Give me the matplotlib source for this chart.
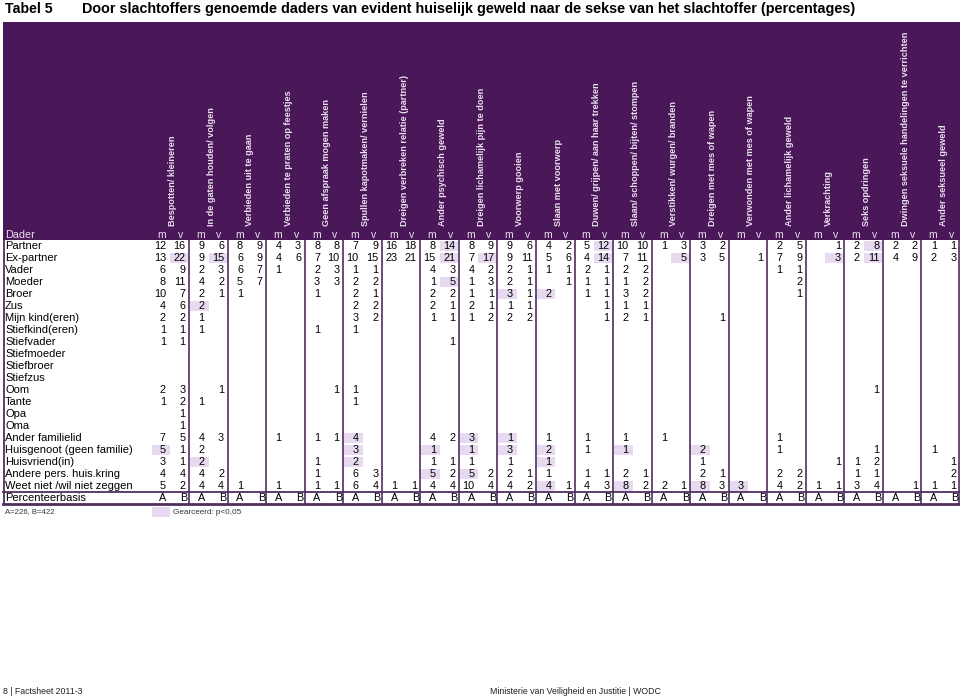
import matplotlib
matplotlib.use('Agg')
import matplotlib.pyplot as plt
from matplotlib.patches import Rectangle

N = None

acts = ["Bespotten/ kleineren", "In de gaten houden/ volgen", "Verbieden uit te gaan",
        "Verbieden te praten op feestjes", "Geen afspraak mogen maken",
        "Spullen kapotmaken/ vernielen", "Dreigen verbreken relatie (partner)",
        "Ander psychisch geweld", "Dreigen lichamelijk pijn te doen", "Voorwerp gooien",
        "Slaan met voorwerp", "Duwen/ grijpen/ aan haar trekken",
        "Slaan/ schoppen/ bijten/ stompen", "Verstikken/ wurgen/ branden",
        "Dreigen met mes of wapen", "Verwonden met mes of wapen", "Ander lichamelijk geweld",
        "Verkrachting", "Seks opdringen", "Dwingen seksuele handelingen te verrichten",
        "Ander seksueel geweld"]
sexes = ["m", "v"]
bases = ["A", "B"]

daders = ["Partner", "Ex-partner", "Vader", "Moeder", "Broer", "Zus", "Mijn kind(eren)",
          "Stiefkind(eren)", "Stiefvader", "Stiefmoeder", "Stiefbroer", "Stiefzus", "Oom",
          "Tante", "Opa", "Oma", "Ander familielid", "Huisgenoot (geen familie)",
          "Huisvriend(in)", "Andere pers. huis.kring", "Weet niet /wil niet zeggen"]

partner = [12,16, 9,6, 8,9, 4,3, 8,8, 7,9, 16,18, 8,14, 8,9, 9,6, 4,2, 5,12, 10,10, 1,3, 3,2, N,N, 2,5, N,1, 2,8, 2,2, 1,1]
ex_partner = [13,22, 9,15, 6,9, 4,6, 7,10, 10,15, 23,21, 15,21, 7,17, 9,11, 5,6, 4,14, 7,11, N,5, 3,5, N,1, 7,9, N,3, 2,11, 4,9, 2,3]
vader = [6,9, 2,3, 6,7, 1,N, 2,3, 1,1, N,N, 4,3, 4,2, 2,1, 1,1, 2,1, 2,2, N,N, N,N, N,N, 1,1, N,N, N,N, N,N, N,N]
moeder = [8,11, 4,2, 5,7, N,N, 3,3, 2,2, N,N, 1,5, 1,3, 2,1, N,1, 1,1, 1,2, N,N, N,N, N,N, N,2, N,N, N,N, N,N, N,N]
broer = [10,7, 2,1, 1,N, N,N, 1,N, 2,1, N,N, 2,2, 1,1, 3,1, 2,N, 1,1, 3,2, N,N, N,N, N,N, N,1, N,N, N,N, N,N, N,N]
zus = [4,6, 2,N, N,N, N,N, N,N, 2,2, N,N, 2,1, 2,1, 1,1, N,N, N,1, 1,1, N,N, N,N, N,N, N,N, N,N, N,N, N,N, N,N]
mijn_kind = [2,2, 1,N, N,N, N,N, N,N, 3,2, N,N, 1,1, 1,2, 2,2, N,N, N,1, 2,1, N,N, N,1, N,N, N,N, N,N, N,N, N,N, N,N]
stiefkind = [1,1, 1,N, N,N, N,N, 1,N, 1,N, N,N, N,N, N,N, N,N, N,N, N,N, N,N, N,N, N,N, N,N, N,N, N,N, N,N, N,N, N,N]
stiefvader = [1,1, N,N, N,N, N,N, N,N, N,N, N,N, N,1, N,N, N,N, N,N, N,N, N,N, N,N, N,N, N,N, N,N, N,N, N,N, N,N, N,N]
stiefmoeder = [N] * 42
stiefbroer = [N] * 42
stiefzus = [N] * 42
oom = [2,3, N,1, N,N, N,N, N,1, 1,N, N,N, N,N, N,N, N,N, N,N, N,N, N,N, N,N, N,N, N,N, N,N, N,N, N,1, N,N, N,N]
tante = [1,2, 1,N, N,N, N,N, N,N, 1,N, N,N, N,N, N,N, N,N, N,N, N,N, N,N, N,N, N,N, N,N, N,N, N,N, N,N, N,N, N,N]
opa = [N,1] + [N] * 40
oma = [N,1] + [N] * 40
ander_familielid = [7,5, 4,3, N,N, 1,N, 1,1, 4,N, N,N, 4,2, 3,N, 1,N, 1,N, 1,N, 1,N, 1,N, N,N, N,N, 1,N, N,N, N,N, N,N, N,N]
huisgenoot = [5,1, 2,N, N,N, N,N, N,N, 3,N, N,N, 1,N, 1,N, 3,N, 2,N, 1,N, 1,N, N,N, 2,N, N,N, 1,N, N,N, N,1, N,N, 1,N]
huisvriend = [3,1, 2,N, N,N, N,N, 1,N, 2,N, N,N, 1,1, 1,N, 1,N, 1,N, N,N, N,N, N,N, 1,N, N,N, N,N, N,1, 1,2, N,N, N,1]
andere_pers = [4,4, 4,2, N,N, N,N, 1,N, 6,3, N,N, 5,2, 5,2, 2,1, 1,N, 1,1, 2,1, N,N, 2,1, N,N, 2,2, N,N, 1,1, N,N, N,2]
weet_niet = [5,2, 4,4, 1,N, 1,N, 1,1, 6,4, 1,1, 4,4, 10,4, 4,2, 4,1, 4,3, 8,2, 2,1, 8,3, 3,N, 4,2, 1,1, 3,4, N,1, 1,1]

rows = [partner, ex_partner, vader, moeder, broer, zus, mijn_kind, stiefkind, stiefvader,
        stiefmoeder, stiefbroer, stiefzus, oom, tante, opa, oma, ander_familielid,
        huisgenoot, huisvriend, andere_pers, weet_niet]

# (row index, column index) of cells that are significant (p < 0.05)
significant = [(0, 15), (0, 23), (0, 37),
               (1, 1), (1, 3), (1, 15), (1, 17), (1, 23), (1, 27), (1, 35), (1, 37),
               (3, 15), (4, 18), (4, 20), (5, 2),
               (16, 10), (16, 16), (16, 18),
               (17, 0), (17, 10), (17, 14), (17, 16), (17, 18), (17, 20), (17, 24), (17, 28),
               (18, 2), (18, 10), (18, 20),
               (19, 14), (19, 16),
               (20, 20), (20, 24), (20, 28), (20, 30)]

title_left = "Tabel 5"
title = "Door slachtoffers genoemde daders van evident huiselijk geweld naar de sekse van het slachtoffer (percentages)"
note = "A=226, B=422"
legend_text = "Gearceerd: p<0,05"
footer_left = "8 | Factsheet 2011-3"
footer_right = "Ministerie van Veiligheid en Justitie | WODC"

# ---------------- layout ----------------
PURPLE = '#4A1758'
LINE = '#4E2E5E'
SHADE = '#E6D9F0'
HEAD_TXT = '#E9E1F0'
FONT = ['Liberation Sans', 'DejaVu Sans']
NARROW = ['Liberation Sans Narrow', 'Liberation Sans', 'DejaVu Sans']

W, H = 960, 700
fig = plt.figure(figsize=(W / 100, H / 100), dpi=100)
ax = fig.add_axes([0, 0, 1, 1])
ax.set_xlim(0, W)
ax.set_ylim(H, 0)
ax.axis('off')

x0, x_end = 150.5, 960.0
gw = (x_end - x0) / len(acts)
row_top = 240.0
rh = 12.0
n_rows = len(rows)

# title
ax.text(5, 9, title_left, fontsize=10.2, fontweight='bold', family=FONT, va='center', ha='left')
ax.text(82, 9, title, fontsize=10.4, fontweight='bold', family=FONT, va='center', ha='left')

# header block
ax.add_patch(Rectangle((3, 22), W - 3, row_top - 22, facecolor=PURPLE, edgecolor='none'))
for g, name in enumerate(acts):
    cx = x0 + gw * (g + 0.5) + 3
    ax.text(cx, 226, name, rotation=90, fontsize=6.6, fontweight='bold', color=HEAD_TXT,
            family=FONT, ha='center', va='bottom')
    for s, sx in enumerate(sexes):
        xr = x0 + gw * g + (11.5 if s == 0 else 30)
        ax.text(xr, 234.5, sx, fontsize=7.5, color=HEAD_TXT, family=FONT, ha='center', va='center')
ax.text(5, 234.5, "Dader", fontsize=7.8, color=HEAD_TXT, family=FONT, ha='left', va='center')

# shading
for (r, c) in significant:
    g, s = divmod(c, 2)
    gx = x0 + gw * g
    if s == 0:
        rx, rw = gx + 1, 18.5
    else:
        rx, rw = gx + 19.5, gw - 20.5
    ax.add_patch(Rectangle((rx, row_top + r * rh + 0.7), rw, rh - 1.4,
                           facecolor=SHADE, edgecolor='none', zorder=1))

# body values
for r, (label, vals) in enumerate(zip(daders, rows)):
    y = row_top + (r + 0.5) * rh
    ax.text(5, y, label, fontsize=8.0, family=FONT, ha='left', va='center', zorder=3)
    for c, v in enumerate(vals):
        if v is None:
            continue
        g, s = divmod(c, 2)
        xr = x0 + gw * g + (15.5 if s == 0 else gw - 3.5)
        ax.text(xr, y, str(v), fontsize=7.8, family=FONT, ha='right', va='center', zorder=3)

# percenteerbasis row
yb = row_top + (n_rows + 0.5) * rh
ax.text(5, yb, "Percenteerbasis", fontsize=8.0, family=FONT, ha='left', va='center')
for g in range(len(acts)):
    for s, b in enumerate(bases):
        xr = x0 + gw * g + (16 if s == 0 else gw - 1.2)
        ax.text(xr, yb, b, fontsize=7.8, family=FONT, ha='right', va='center')

# lines
y_bottom = row_top + (n_rows + 1) * rh
ax.plot([3.5, 3.5], [row_top, y_bottom], color=LINE, lw=1.3, solid_capstyle='butt')
for g in range(1, len(acts) + 1):
    xl = x0 + gw * g - (0.8 if g == len(acts) else 0)
    ax.plot([xl, xl], [row_top, y_bottom], color=LINE, lw=1.2, solid_capstyle='butt')
ax.plot([3, W], [row_top + n_rows * rh, row_top + n_rows * rh], color=LINE, lw=1.3)
ax.plot([3, W], [y_bottom, y_bottom], color=LINE, lw=2.0)

# legend / note
ax.text(5, 512, note, fontsize=5.6, family=FONT, ha='left', va='center', color='#333333')
ax.add_patch(Rectangle((152, 506.5), 18, 10.5, facecolor=SHADE, edgecolor='none'))
ax.text(173, 512, legend_text, fontsize=5.9, family=FONT, ha='left', va='center', color='#333333')

# footer
ax.text(3, 692, footer_left, fontsize=6.3, family=NARROW, ha='left', va='center', color='#222222')
ax.text(490, 692, footer_right, fontsize=6.3, family=NARROW, ha='left', va='center', color='#222222')

fig.savefig('out.png', dpi=100, facecolor='white')
